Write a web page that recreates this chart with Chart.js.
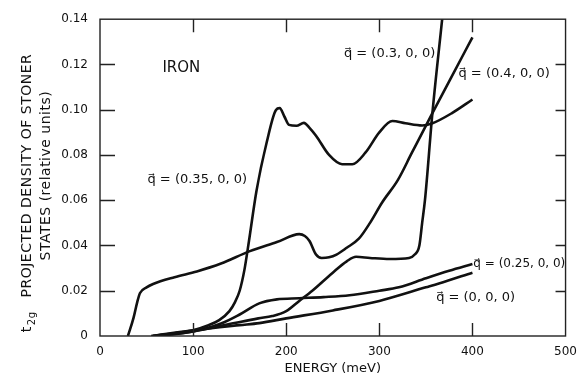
<!DOCTYPE html>
<html lang="en">
<head>
  <meta charset="UTF-8">
  <title>Iron - t2g projected density of Stoner states</title>
  <script src="https://cdn.jsdelivr.net/npm/chart.js"></script>
  <style>
    html, body { margin: 0; padding: 0; background: #fff; }
    #stonerChart { display: block; }
  </style>
</head>
<body>
  <canvas id="stonerChart" width="586" height="381"></canvas>
  <script>
    // values: energy in meV, density in relative units
    const energyQ040 = [30, 36, 40, 43, 50, 57, 80, 104, 130, 161, 190, 214, 220, 225, 232, 238, 246, 254, 265, 278, 290, 303, 320, 335, 357, 375, 400];
    const densityQ040 = [0, 0.008, 0.015, 0.019, 0.0215, 0.023, 0.026, 0.0285, 0.032, 0.0375, 0.0415, 0.045, 0.0442, 0.042, 0.036, 0.0345, 0.0348, 0.036, 0.039, 0.043, 0.050, 0.059, 0.069, 0.081, 0.0985, 0.1125, 0.132];

    const energyQ035 = [57, 80, 100, 115, 128, 139, 145, 150, 155, 160, 168, 179, 189, 193, 198, 203, 211, 219, 225, 232, 246, 260, 271, 285, 300, 314, 328, 346, 357, 378, 400];
    const densityQ035 = [0, 0.0012, 0.0025, 0.0045, 0.007, 0.011, 0.015, 0.02, 0.029, 0.042, 0.064, 0.0855, 0.0999, 0.1007, 0.097, 0.0933, 0.0929, 0.0942, 0.092, 0.0885, 0.080, 0.0759, 0.0759, 0.081, 0.090, 0.095, 0.094, 0.093, 0.094, 0.0985, 0.1045];

    const energyQ030 = [60, 100, 143, 170, 185, 200, 214, 228, 250, 265, 275, 290, 311, 332, 338, 343, 346, 349, 357, 368, 369];
    const densityQ030 = [0, 0.002, 0.0056, 0.0078, 0.0088, 0.011, 0.0155, 0.020, 0.028, 0.033, 0.035, 0.0345, 0.034, 0.0345, 0.036, 0.040, 0.050, 0.060, 0.0985, 0.142, 0.146];

    const energyQ025 = [60, 100, 130, 150, 171, 190, 214, 240, 268, 300, 321, 350, 375, 400];
    const densityQ025 = [0, 0.002, 0.0055, 0.0095, 0.0144, 0.0162, 0.0167, 0.0172, 0.018, 0.020, 0.0215, 0.0255, 0.0288, 0.0318];

    const energyQ000 = [55, 100, 150, 171, 200, 250, 300, 350, 364, 400];
    const densityQ000 = [0, 0.0025, 0.0048, 0.0057, 0.0078, 0.0113, 0.0155, 0.0215, 0.0232, 0.028];

    const xTicks = [0, 100, 200, 300, 400, 500];
    const yTicks = [0, 0.02, 0.04, 0.06, 0.08, 0.10, 0.12, 0.14];

    const curveLabels = ['IRON', 'q\u20D7 = (0.35, 0, 0)', 'q\u20D7 = (0.3, 0, 0)', 'q\u20D7 = (0.4, 0, 0)', 'q\u20D7 = (0.25, 0, 0)', 'q\u20D7 = (0, 0, 0)'];
    const labelEnergy = [67, 51, 262, 385, 401, 361];
    const labelDensity = [0.1186, 0.0689, 0.1247, 0.116, 0.0318, 0.017];
    const labelFontSize = [15, 13, 13, 13, 12, 13];

    const FONT = "'DejaVu Sans', 'Liberation Sans', sans-serif";

    function toPoints(xs, ys) {
      return xs.map((x, i) => ({ x: x, y: ys[i] }));
    }

    function curve(xs, ys) {
      return {
        data: toPoints(xs, ys),
        borderColor: '#111',
        borderWidth: 2.6,
        pointRadius: 0,
        fill: false,
        cubicInterpolationMode: 'monotone',
      };
    }

    // box with inward ticks, curve labels and the rotated y title
    const figureDecor = {
      id: 'figureDecor',
      afterDatasetsDraw(chart) {
        const { ctx, chartArea: a, scales: { x, y } } = chart;
        ctx.save();
        ctx.strokeStyle = '#222';
        ctx.lineWidth = 1.4;
        ctx.strokeRect(a.left, a.top, a.right - a.left, a.bottom - a.top);

        ctx.beginPath();
        xTicks.slice(1, -1).forEach(v => {
          const px = Math.round(x.getPixelForValue(v)) + 0.5;
          ctx.moveTo(px, a.bottom); ctx.lineTo(px, a.bottom - 13);
          ctx.moveTo(px, a.top); ctx.lineTo(px, a.top + 13);
        });
        yTicks.slice(1, -1).forEach(v => {
          const py = Math.round(y.getPixelForValue(v)) + 0.5;
          ctx.moveTo(a.left, py); ctx.lineTo(a.left + 15, py);
          ctx.moveTo(a.right, py); ctx.lineTo(a.right - 10, py);
        });
        ctx.stroke();

        ctx.fillStyle = '#111';
        ctx.textAlign = 'left';
        ctx.textBaseline = 'middle';
        curveLabels.forEach((t, i) => {
          ctx.font = labelFontSize[i] + 'px ' + FONT;
          ctx.fillText(t, x.getPixelForValue(labelEnergy[i]), y.getPixelForValue(labelDensity[i]));
        });

        // y axis title, two rotated lines
        const midY = (a.top + a.bottom) / 2 - 2;
        ctx.textBaseline = 'alphabetic';
        ctx.letterSpacing = '0.5px';
        ctx.font = '14px ' + FONT;
        ctx.save();
        ctx.translate(31, midY);
        ctx.rotate(-Math.PI / 2);
        ctx.textAlign = 'center';
        const main = 'PROJECTED DENSITY OF STONER';
        const w = ctx.measureText(main).width;
        ctx.fillText(main, 0, 0);
        ctx.textAlign = 'right';
        ctx.font = '10px ' + FONT;
        const subEnd = -w / 2 - 14;
        ctx.fillText('2g', subEnd, 4);
        const subW = ctx.measureText('2g').width;
        ctx.font = '14px ' + FONT;
        ctx.fillText('t', subEnd - subW - 1, 0);
        ctx.restore();

        ctx.save();
        ctx.translate(50, midY);
        ctx.rotate(-Math.PI / 2);
        ctx.textAlign = 'center';
        ctx.fillText('STATES (relative units)', 0, 0);
        ctx.restore();

        ctx.restore();
      }
    };

    document.addEventListener('DOMContentLoaded', () => {
      const ctx = document.getElementById('stonerChart').getContext('2d');
      new Chart(ctx, {
        type: 'line',
        data: {
          datasets: [
            curve(energyQ040, densityQ040),
            curve(energyQ035, densityQ035),
            curve(energyQ030, densityQ030),
            curve(energyQ025, densityQ025),
            curve(energyQ000, densityQ000),
          ],
        },
        options: {
          responsive: false,
          animation: false,
          layout: { padding: { left: 0, right: 19, top: 15, bottom: 0 } },
          plugins: {
            legend: { display: false },
            tooltip: { enabled: false },
          },
          scales: {
            x: {
              type: 'linear',
              min: 0,
              max: 500,
              grid: { display: false, drawTicks: false },
              border: { display: false },
              afterBuildTicks: s => { s.ticks = xTicks.map(v => ({ value: v })); },
              afterFit: s => { s.height = 45; },
              ticks: {
                color: '#111',
                padding: 9,
                maxRotation: 0,
                font: { family: FONT, size: 12 },
                callback: v => String(v),
              },
              title: {
                display: true,
                text: 'ENERGY (meV)',
                color: '#111',
                font: { family: FONT, size: 13 },
                padding: { top: 0, bottom: 5 },
              },
            },
            y: {
              min: 0,
              max: 0.14,
              grid: { display: false, drawTicks: false },
              border: { display: false },
              afterBuildTicks: s => { s.ticks = yTicks.map(v => ({ value: v })); },
              afterFit: s => { s.width = 100; },
              ticks: {
                color: '#111',
                padding: 12,
                font: { family: FONT, size: 12 },
                callback: v => (v === 0 ? '0' : v.toFixed(2)),
              },
            },
          },
        },
        plugins: [figureDecor],
      });
    });
  </script>
</body>
</html>
